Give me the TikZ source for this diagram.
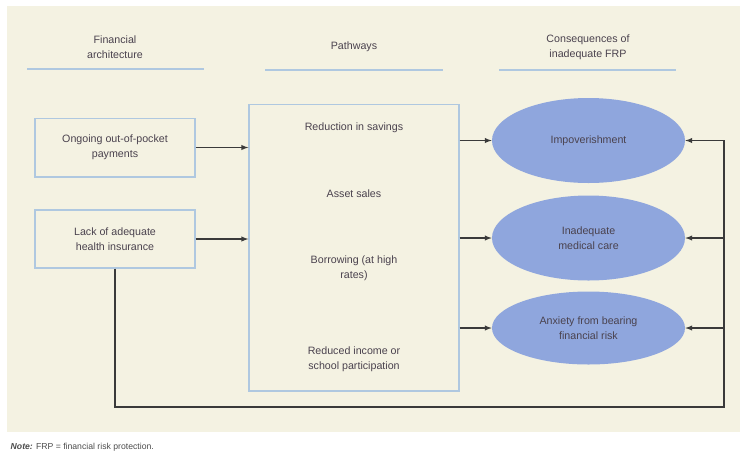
\documentclass[tikz,border=0pt]{standalone}
\usepackage{xcolor}
\usepackage{fontspec}
\setmainfont{Liberation Sans}
\usepackage{tikz}
\usetikzlibrary{shapes, arrows}
\usetikzlibrary{positioning}

\definecolor{panelbg}{HTML}{F4F2E2}
\definecolor{rulecol}{HTML}{AFC8E0}
\definecolor{ovalcol}{HTML}{8FA6DD}
\definecolor{ink}{HTML}{4A424E}
\definecolor{wire}{HTML}{3A3A3A}

\tikzset{
  head/.style={align=center, text=ink, font=\fontsize{8}{11}\selectfont},
  headrule/.style={draw=rulecol, line width=1.1pt},
  box/.style={draw=rulecol, line width=1pt, rectangle, align=center, text=ink, font=\fontsize{8}{11}\selectfont},
  item/.style={align=center, text=ink, font=\fontsize{8}{11}\selectfont},
  result/.style={ellipse, fill=ovalcol, align=center, text=ink, inner sep=0pt, minimum width=144.75pt, font=\fontsize{8}{11}\selectfont},
  link/.style={draw=wire, line width=0.8pt, ->}
}

\begin{document}
\begin{tikzpicture}[x=0.75pt, y=-0.75pt, >=latex]
\useasboundingbox (0,0) rectangle (740,455);
\fill[panelbg] (7,6) rectangle (740,432);

% column heads
\node[head] (hfin) at (115,47) {Financial\\architecture};
\draw[headrule] (27,69) -- (204,69);
\node[head] (hpath) at (354,47) {Pathways};
\draw[headrule] (265,70) -- (443,70);
\node[head] (hcons) at (588,47) {Consequences of\\inadequate FRP};
\draw[headrule] (499,70) -- (676,70);

% financial architecture
\node[box, minimum width=120pt, minimum height=44pt] (oop) at (115,147.5) {Ongoing out-of-pocket\\payments};
\node[box, minimum width=120pt, minimum height=43.5pt] (lack) at (115,239) {Lack of adequate\\health insurance};

% pathways
\node[box, minimum width=157.5pt, minimum height=215pt] (path) at (354,247.5) {};
\node[item] (save) at (354,128) {Reduction in savings};
\node[item] (asset) at (354,194) {Asset sales};
\node[item] (borrow) at (354,268) {Borrowing (at high\\rates)};
\node[item] (income) at (354,359) {Reduced income or\\school participation};

% consequences
\node[result, minimum height=63.75pt] (impov) at (588.5,140.5) {Impoverishment};
\node[result, minimum height=63.75pt] (care) at (588.5,238) {Inadequate\\medical care};
\node[result, minimum height=54.75pt] (anx) at (588.5,328) {Anxiety from bearing\\financial risk};

\draw[link] (oop.east) -- (oop.east -| path.west);
\draw[link] (lack.east) -- (lack.east -| path.west);
\draw[link] (impov.west -| path.east) -- (impov.west);
\draw[link] (care.west -| path.east) -- (care.west);
\draw[link] (anx.west -| path.east) -- (anx.west);

% feedback
\coordinate (loopR) at (724,407);
\draw[link] (lack.south) |- (loopR) |- (impov.east);
\draw[link] (loopR |- care.east) -- (care.east);
\draw[link] (loopR |- anx.east) -- (anx.east);

\node[anchor=west, text=black!70, font=\fontsize{6.5}{8}\selectfont] (note) at (6,447) {\textbf{\textit{Note:}} FRP = financial risk protection.};
\end{tikzpicture}
\end{document}
